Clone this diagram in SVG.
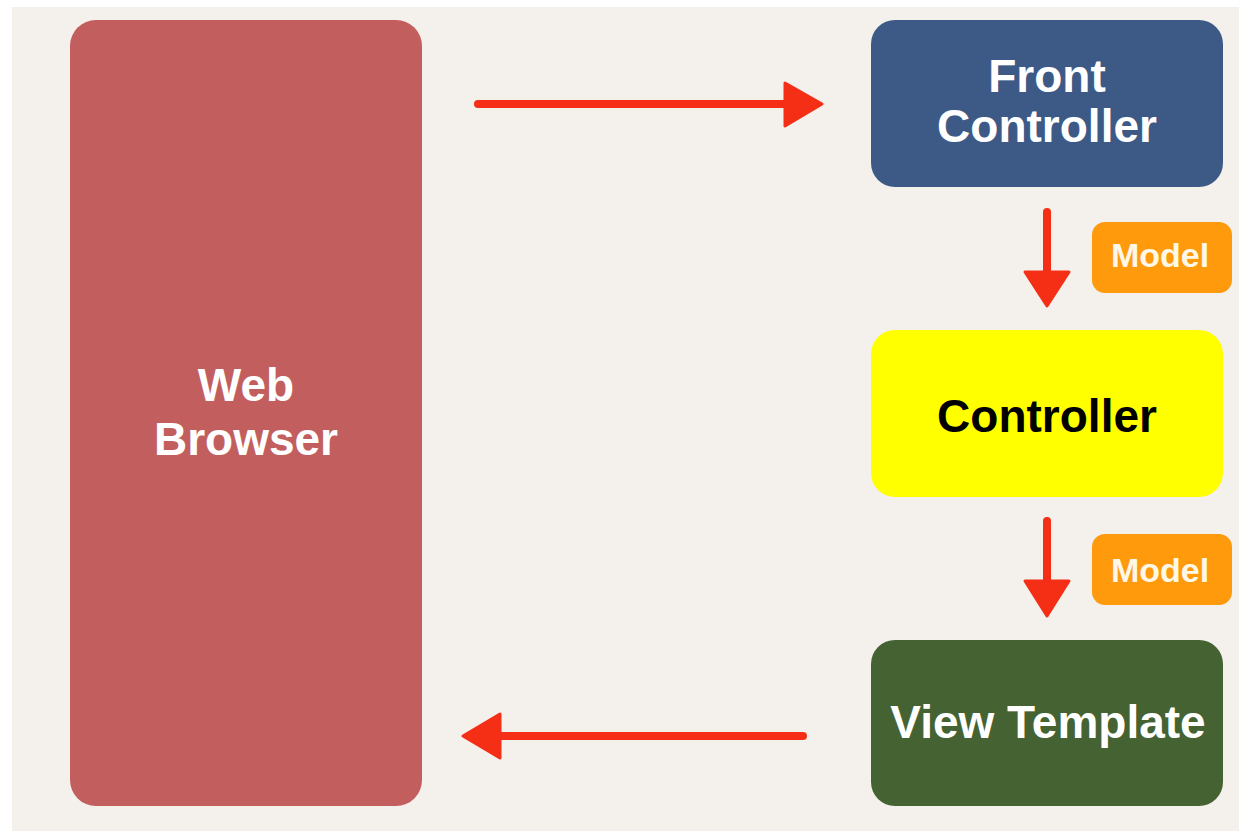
<svg xmlns="http://www.w3.org/2000/svg" width="1239" height="831" viewBox="0 0 1239 831">
  <style>
    .label { font-family: "Liberation Sans", Arial, sans-serif; font-weight: bold; text-anchor: middle; }
    .big { font-size: 46px; fill: #ffffff; }
    .dark { fill: #000000; }
    .small { font-size: 34px; fill: #fff8e8; }
    .arrow { stroke: #f42f16; stroke-width: 8; fill: none; stroke-linecap: round; }
    .head { fill: #f42f16; stroke: #f42f16; stroke-width: 3; stroke-linejoin: round; }
  </style>

  <!-- paper background -->
  <rect x="0" y="0" width="1239" height="831" fill="#ffffff"/>
  <rect x="12" y="7" width="1227" height="824" fill="#f4f1ec"/>

  <g id="web-browser">
    <rect x="70" y="20" width="352" height="786" rx="26" fill="#c25e5e"/>
    <text class="label big" x="246" y="401">Web</text>
    <text class="label big" x="246" y="455">Browser</text>
  </g>

  <g id="front-controller">
    <rect x="871" y="20" width="352" height="167" rx="24" fill="#3d5a87"/>
    <text class="label big" x="1047" y="92">Front</text>
    <text class="label big" x="1047" y="142">Controller</text>
  </g>

  <g id="model-1">
    <rect x="1092" y="222" width="140" height="71" rx="13" fill="#ff9a0c"/>
    <text class="label small" x="1160" y="267">Model</text>
  </g>

  <g id="controller">
    <rect x="871" y="330" width="352" height="167" rx="24" fill="#ffff00"/>
    <text class="label big dark" x="1047" y="432">Controller</text>
  </g>

  <g id="model-2">
    <rect x="1092" y="534" width="140" height="71" rx="13" fill="#ff9a0c"/>
    <text class="label small" x="1160" y="582">Model</text>
  </g>

  <g id="view-template">
    <rect x="871" y="640" width="352" height="166" rx="24" fill="#446232"/>
    <text class="label big" x="1048" y="738">View Template</text>
  </g>

  <g id="connectors">
    <!-- browser to front controller -->
    <line class="arrow" x1="478" y1="104" x2="790" y2="104"/>
    <polygon class="head" points="785,83 822,104 785,126"/>
    <!-- front controller to controller -->
    <line class="arrow" x1="1047" y1="212" x2="1047" y2="276"/>
    <polygon class="head" points="1025,272 1069,272 1047,306"/>
    <!-- controller to view template -->
    <line class="arrow" x1="1047" y1="521" x2="1047" y2="584"/>
    <polygon class="head" points="1025,581 1069,581 1047,616"/>
    <!-- view template back to browser -->
    <line class="arrow" x1="803" y1="736" x2="496" y2="736"/>
    <polygon class="head" points="500,714 500,758 463,736"/>
  </g>
</svg>
